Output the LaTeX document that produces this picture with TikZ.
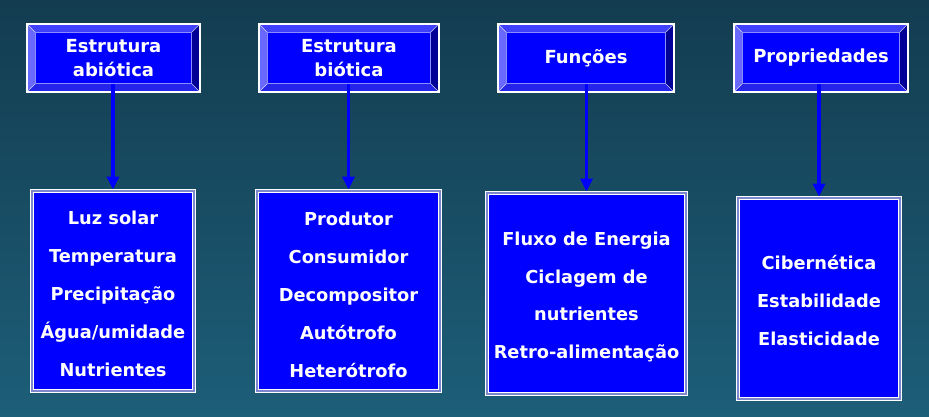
\documentclass[tikz,border=0pt]{standalone}
\usepackage{fontspec}
\setmainfont{DejaVu Sans}
\usetikzlibrary{arrows.meta}
\definecolor{bgtop}{RGB}{19,60,80}
\definecolor{bgbot}{RGB}{29,94,120}
\definecolor{pureblue}{RGB}{0,0,255}
\definecolor{bvtop}{RGB}{64,64,255}
\definecolor{bvleft}{RGB}{105,105,255}
\definecolor{bvbot}{RGB}{36,36,235}
\definecolor{bvright}{RGB}{0,0,150}
\definecolor{facelin}{RGB}{140,140,255}
\definecolor{cardband}{RGB}{125,135,205}

\newcommand\bevelhdr[6]{% name, cx, cy, inner width, inner height, text
  \pgfmathsetmacro\hOL{#2-#4/2-8.5}\pgfmathsetmacro\hOR{#2+#4/2+8.5}
  \pgfmathsetmacro\hOT{#3-#5/2-8.5}\pgfmathsetmacro\hOB{#3+#5/2+8.5}
  \pgfmathsetmacro\hIL{#2-#4/2}\pgfmathsetmacro\hIR{#2+#4/2}
  \pgfmathsetmacro\hIT{#3-#5/2}\pgfmathsetmacro\hIB{#3+#5/2}
  \fill[bvtop] (\hOL,\hOT) -- (\hOR,\hOT) -- (\hIR,\hIT) -- (\hIL,\hIT) -- cycle;
  \fill[bvright] (\hOR,\hOT) -- (\hOR,\hOB) -- (\hIR,\hIB) -- (\hIR,\hIT) -- cycle;
  \fill[bvbot] (\hOL,\hOB) -- (\hOR,\hOB) -- (\hIR,\hIB) -- (\hIL,\hIB) -- cycle;
  \fill[bvleft] (\hOL,\hOT) -- (\hOL,\hOB) -- (\hIL,\hIB) -- (\hIL,\hIT) -- cycle;
  \draw[diag] (\hOL,\hOT) -- (\hIL,\hIT) (\hOR,\hOT) -- (\hIR,\hIT)
              (\hOL,\hOB) -- (\hIL,\hIB) (\hOR,\hOB) -- (\hIR,\hIB);
  \draw[white, line width=1.2pt] (\hOL,\hOT) rectangle (\hOR,\hOB);
  \node[face, minimum width=#4pt, minimum height=#5pt] (#1) at (#2,#3) {#6};
}

\begin{document}
\begin{tikzpicture}[x=1pt,y=-1pt,
  txt/.style={text=white, font=\fontsize{18}{24}\selectfont\bfseries, align=center, inner sep=0pt},
  bodytxt/.style={txt, font=\fontsize{17.8}{38}\selectfont\bfseries},
  face/.style={txt, fill=pureblue, draw=facelin, line width=1.5pt},
  diag/.style={draw=white, line width=0.6pt, opacity=0.75},
  card/.style={fill=pureblue, draw=white, double=cardband, double distance=2pt, line width=0.9pt, inner sep=0pt},
  arr/.style={draw=pureblue, line width=3.8pt, -{Triangle[width=12pt,length=13pt]}, shorten >=1pt}
]
\shade[top color=bgtop, bottom color=bgbot] (0,0) rectangle (929,417);
\useasboundingbox (0,0) rectangle (929,417);

% headers
\bevelhdr{h1}{113.5}{58}{156}{51}{Estrutura\\abiótica}
\bevelhdr{h2}{349}{58}{163}{51}{Estrutura\\biótica}
\bevelhdr{h3}{586}{58}{159}{51}{Funções}
\bevelhdr{h4}{821}{58}{157}{51}{Propriedades}

% boxes
\node[card, minimum width=162pt, minimum height=200pt] (b1) at (113,291) {};
\node[card, minimum width=183pt, minimum height=200pt] (b2) at (348.5,291) {};
\node[card, minimum width=199pt, minimum height=201pt] (b3) at (586.5,293.5) {};
\node[card, minimum width=162pt, minimum height=201pt] (b4) at (819,298.5) {};

\node[bodytxt] (t1) at ([yshift=-3pt]b1.center) {Luz solar\\Temperatura\\Precipitação\\Água/umidade\\Nutrientes};
\node[bodytxt] (t2) at ([yshift=-3.5pt]b2.center) {Produtor\\Consumidor\\Decompositor\\Autótrofo\\Heterótrofo};
\node[bodytxt, font=\fontsize{17.8}{37.5}\selectfont\bfseries] (t3) at ([yshift=-3.5pt]b3.center) {Fluxo de Energia\\Ciclagem de\\nutrientes\\Retro-alimentação};
\node[bodytxt] (t4) at ([yshift=-2.5pt]b4.center) {Cibernética\\Estabilidade\\Elasticidade};

% arrows
\draw[arr] (b1.north |- h1.south) -- (b1.north);
\draw[arr] (b2.north |- h2.south) -- (b2.north);
\draw[arr] (b3.north |- h3.south) -- (b3.north);
\draw[arr] (b4.north |- h4.south) -- (b4.north);
\end{tikzpicture}
\end{document}
